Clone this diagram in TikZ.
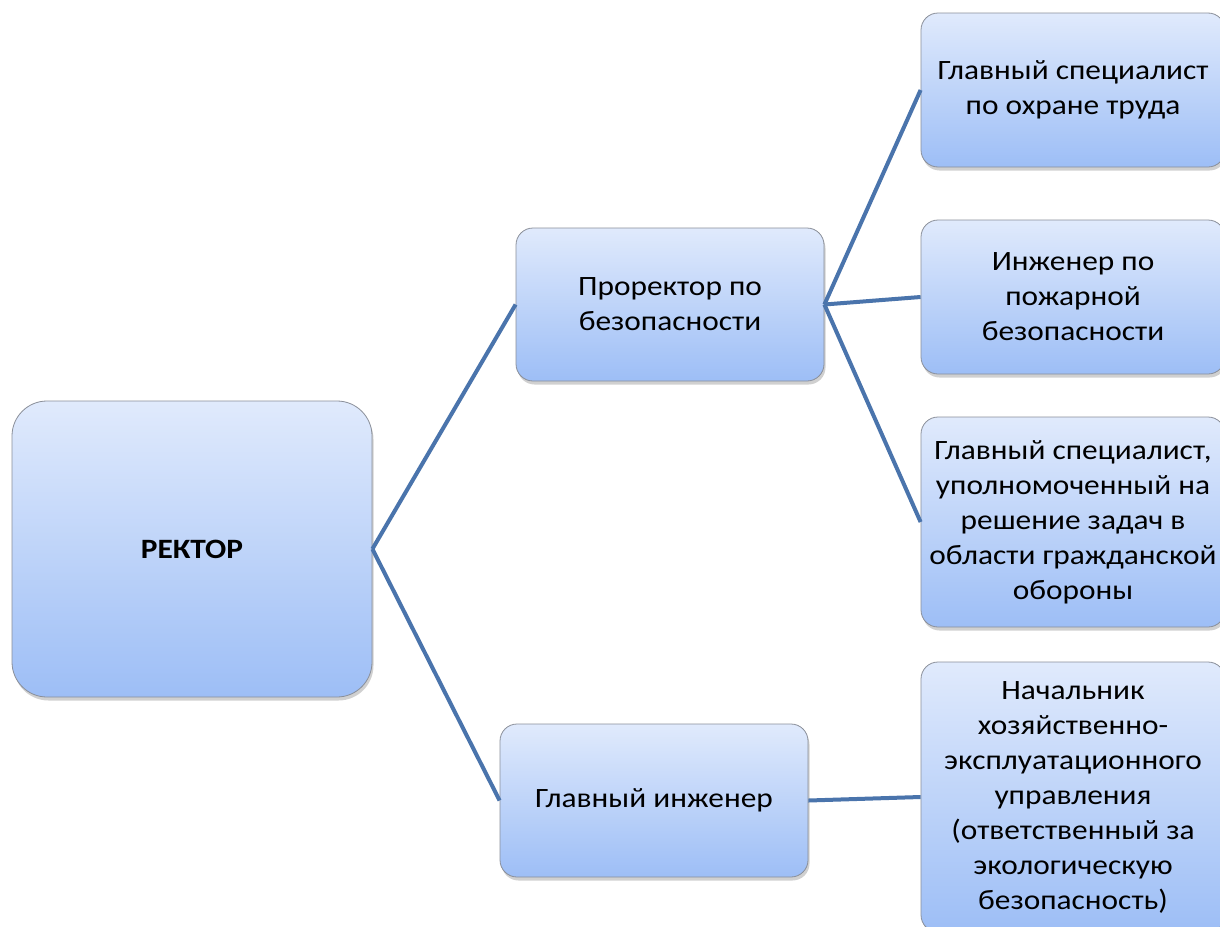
\documentclass[tikz,border=0pt]{standalone}
\usepackage{fontspec}
\setmainfont{Carlito}[FakeStretch=1.12]
\usetikzlibrary{shadows}
\definecolor{linkc}{HTML}{4A74AC}
\definecolor{topc}{HTML}{E0EAFC}
\definecolor{botc}{HTML}{9DBEF6}
\definecolor{edgec}{HTML}{8A8F99}
\tikzset{
  orgbox/.style={draw=edgec, line width=0.8pt, rounded corners=17pt,
    top color=topc, bottom color=botc, align=center, inner sep=4pt,
    font=\fontsize{28}{35}\selectfont,
    drop shadow={shadow xshift=1.5pt, shadow yshift=-3.5pt, opacity=0.3, fill=black!60}},
  link/.style={draw=linkc, line width=4pt}
}
\begin{document}
\begin{tikzpicture}[x=1pt,y=-1pt]
\clip (0,0) rectangle (1220,926);
\fill[white] (0,0) rectangle (1220,926);
\node[orgbox, rounded corners=35pt, minimum width=360pt, minimum height=296pt, font=\fontsize{28}{35}\selectfont\bfseries] (rector) at (192,549) {РЕКТОР};
\node[orgbox, minimum width=308pt, minimum height=153pt] (pro) at (670,304.5) {Проректор по\\безопасности};
\node[orgbox, minimum width=308pt, minimum height=153pt] (eng) at (654,800.5) {Главный инженер};
\node[orgbox, minimum width=304pt, minimum height=154pt] (b1) at (1073,90) {Главный специалист\\по охране труда};
\node[orgbox, minimum width=304pt, minimum height=154pt] (b2) at (1073,297) {Инженер по\\пожарной\\безопасности};
\node[orgbox, minimum width=304pt, minimum height=210pt] (b3) at (1073,522) {Главный специалист,\\уполномоченный на\\решение задач в\\области гражданской\\обороны};
\node[orgbox, minimum width=304pt, minimum height=270pt] (b4) at (1073,797) {Начальник\\хозяйственно-\\эксплуатационного\\управления\\(ответственный за\\экологическую\\безопасность)};
\draw[link] (rector.east) -- (pro.west);
\draw[link] (rector.east) -- (eng.west);
\draw[link] (pro.east) -- (b1.west);
\draw[link] (pro.east) -- (b2.west);
\draw[link] (pro.east) -- (b3.west);
\draw[link] (eng.east) -- (b4.west);
\end{tikzpicture}
\end{document}
